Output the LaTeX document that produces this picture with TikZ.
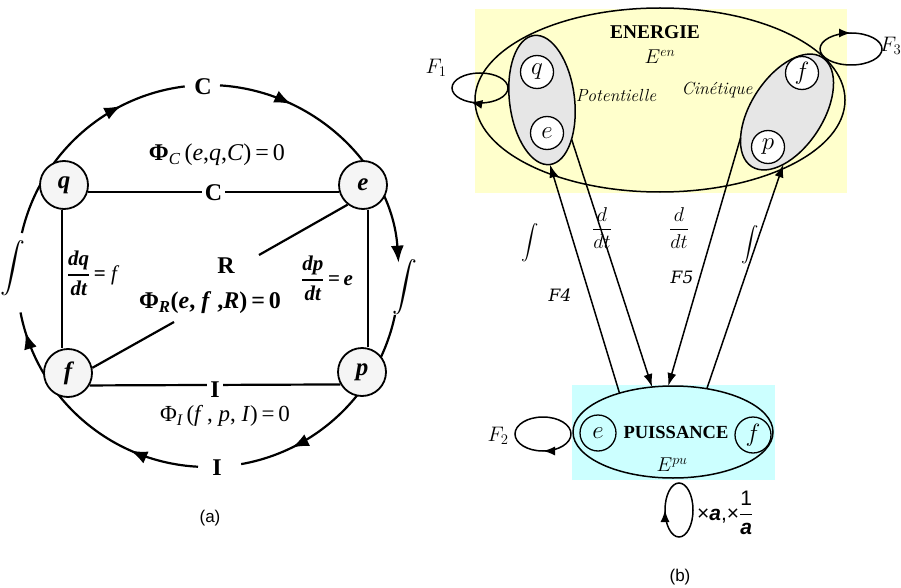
\RequirePackage{fix-cm}
\documentclass[tikz,border=0pt]{standalone}
\usepackage{amsmath}
\usepackage{fontspec}
\newfontfamily\tms{Liberation Serif}
\newfontfamily\sns{Liberation Sans}
\newfontfamily\dvs{DejaVu Serif}
\usetikzlibrary{shapes.geometric,arrows.meta,decorations.markings,calc}
\definecolor{enfill}{RGB}{255,255,204}
\definecolor{pufill}{RGB}{204,255,255}
\definecolor{nodefill}{RGB}{245,245,245}
\definecolor{blobfill}{RGB}{230,230,230}
\tikzset{
  amark/.style={postaction={decorate,decoration={markings,mark=at position #1 with {\arrow{Latex[length=17pt,width=13pt]}}}}},
  rmark/.style={postaction={decorate,decoration={markings,mark=at position #1 with {\arrow{Latex[length=12pt,width=9pt]}}}}},
  lline/.style={line width=2.2pt},
  arcl/.style={line width=2.2pt},
  lnode/.style={circle,draw,line width=1.8pt,fill=nodefill,minimum size=48pt,inner sep=0pt,
    font=\tms\bfseries\itshape\fontsize{25}{28}\selectfont},
  lab/.style={font=\tms\bfseries\fontsize{24}{28}\selectfont,inner sep=3pt},
  rline/.style={line width=1.5pt},
  blob/.style={ellipse,draw,line width=1.5pt,fill=blobfill,inner sep=0pt,outer sep=0pt},
  rcirc/.style={circle,draw,line width=1.3pt,fill=white,minimum size=33pt,inner sep=0pt,
    font=\fontsize{25}{28}\selectfont},
  pcirc/.style={circle,draw,line width=1.3pt,minimum size=36pt,inner sep=0pt,
    font=\fontsize{25}{28}\selectfont},
  rarrow/.style={line width=1.5pt,-{Latex[length=13pt,width=9pt]}},
  mathlab/.style={font=\fontsize{21}{24}\selectfont,inner sep=1pt},
}
\begin{document}
\begin{tikzpicture}[x=1pt,y=-1pt]
\useasboundingbox (0,0) rectangle (901,588);
% ================= (a) =================
\coordinate (c) at (208,276);
\draw[arcl,amark=0.714] ($(c)+(193:191)$) arc[start angle=193,end angle=263,radius=191];
\draw[arcl,amark=0.27,-{Latex[length=17pt,width=13pt]}] ($(c)+(273.6:191)$) arc[start angle=273.6,end angle=356,radius=191];
\draw[arcl,amark=0.765] ($(c)+(11.8:191)$) arc[start angle=11.8,end angle=80,radius=191];
\draw[arcl,amark=0.276,amark=0.92] ($(c)+(93:191)$) arc[start angle=93,end angle=169,radius=191];

\node[lnode] (q) at (64,185) {q};
\node[lnode] (e) at (363,185) {e};
\node[lnode] (f) at (68,373) {f};
\node[lnode] (p) at (362,372) {p};

\coordinate (r1) at (259,255);
\coordinate (r2) at (174,322);
\draw[lline] (q.-17) -- node[lab,fill=white] {C} (e.197);
\draw[lline] ([xshift=-2pt]q.south) -- ([xshift=-2pt]q.south |- f.north);
\draw[lline] ([xshift=5pt]e.south) -- ([xshift=5pt]e.south |- p.north);
\draw[lline] (f.-30) -- node[lab,fill=white,inner ysep=1pt,yshift=-5pt] {I} (p.210);
\draw[lline] (e.232) -- (r1);
\draw[lline] (f.12) -- (r2);

\node[lab] (ctop) at (203,87) {C};
\node[lab] (ibot) at (217,468) {I};
\node[lab] (rlab) at (226,266) {R};
\node[font=\tms\fontsize{24}{28}\selectfont] (phic) at (217,155)
  {{\bfseries Φ}\textsubscript{\itshape C}\,(\textit{e},\textit{q},\textit{C})\,=\,0};
\node[font=\tms\bfseries\fontsize{24}{28}\selectfont] (phir) at (210,303)
  {Φ\textsubscript{\itshape R}(\textit{e}, \textit{f} ,\textit{R})\,=\,0};
\node[font=\tms\fontsize{23}{26}\selectfont,inner sep=1pt] (phii) at (225,416)
  {Φ\textsubscript{\itshape I}\,(\textit{f}\,, \textit{p}, \textit{I})\,=\,0};
\node[font=\fontsize{21}{24}\selectfont] (dqdt) at (92,273)
  {$\genfrac{}{}{1.6pt}{0}{\hbox{\tms\bfseries\itshape dq}}{\hbox{\tms\bfseries\itshape dt}}\hbox{\tms\bfseries\,= }\hbox{\tms\itshape f}$};
\node[font=\fontsize{21}{24}\selectfont] (dpdt) at (327,278)
  {$\genfrac{}{}{1.6pt}{0}{\hbox{\tms\bfseries\itshape dp}}{\hbox{\tms\bfseries\itshape dt}}\hbox{\tms\bfseries\,=\,}\hbox{\tms\bfseries\itshape e}$};
\node[font=\fontsize{27}{30}\selectfont] (intl) at (13,268) {$\displaystyle\int$};
\node[font=\fontsize{27}{30}\selectfont] (intr) at (405,287) {$\displaystyle\int$};
\node[font=\sns\fontsize{17}{20}\selectfont] (capa) at (210,518) {(a)};

% ================= (b) =================
\fill[enfill] (475,9) rectangle (847,193);
\node[ellipse,draw,rline,minimum width=370pt,minimum height=184pt,inner sep=0pt,outer sep=0pt] (en) at (660,100) {};
\node[blob,minimum width=65pt,minimum height=130pt,rotate=7] (pot) at (542,100) {};
\node[blob,minimum width=130pt,minimum height=72pt,rotate=57] (cin) at (787,112) {};
\node[rcirc] (q2) at (537,72) {$q$};
\node[rcirc] (e1) at (547,133) {$e$};
\node[rcirc] (f1) at (802,73) {$f$};
\node[rcirc] (p1) at (768,147) {$p$};
\node[font=\tms\bfseries\fontsize{19.5}{22}\selectfont] (entitle) at (655,32) {ENERGIE};
\node[font=\fontsize{20}{22}\selectfont] (een) at (660,57) {$E^{en}$};
\node[font=\itshape\fontsize{17.5}{20}\selectfont] (potl) at (616,96) {Potentielle};
\node[font=\itshape\fontsize{17.5}{20}\selectfont] (cinl) at (717,90) {Cinétique};

\coordinate (l1) at (480,88);
\coordinate (l3) at (851,49);
\coordinate (l2) at (543,434);
\coordinate (l4) at (679,510);
\draw[rline,rmark=0.32] ($(l1)+(28,0)$) arc[start angle=0,end angle=360,x radius=28,y radius=15];
\draw[rline,rmark=0.75] ($(l3)+(31,0)$) arc[start angle=0,end angle=360,x radius=31,y radius=16];
\draw[rline,rmark=0.25] ($(l2)+(28,0)$) arc[start angle=0,end angle=360,x radius=28,y radius=17];
\draw[rline,rmark=0.5] ($(l4)+(14,0)$) arc[start angle=0,end angle=360,x radius=14,y radius=27];
\node[mathlab] (F1) at (436,68) {$F_1$};
\node[mathlab,anchor=west,inner sep=0pt] (F3) at (880,46) {$F_3$};
\node[mathlab] (F2) at (498,436) {$F_2$};

\fill[pufill] (572,385) rectangle (775,480);
\node[ellipse,draw,rline,minimum width=200pt,minimum height=92pt,inner sep=0pt,outer sep=0pt] (pu) at (673,432) {};
\node[pcirc] (e2) at (598,433) {$e$};
\node[pcirc] (f2) at (753,435) {$f$};
\node[font=\tms\bfseries\fontsize{18.5}{20}\selectfont] (putitle) at (676,432) {PUISSANCE};
\node[font=\fontsize{20}{22}\selectfont] (epu) at (672,465) {$E^{pu}$};

\draw[rarrow] (pu.144) -- (pot.south);
\draw[rarrow] (pot.-60) -- (pu.115);
\draw[rarrow] (cin.152) -- (pu.96);
\draw[rarrow] (pu.52) -- (cin.209);

\node[font=\fontsize{17}{20}\selectfont] (int1) at (530,243) {$\displaystyle\int$};
\node[font=\fontsize{17}{20}\selectfont] (int2) at (750,245) {$\displaystyle\int$};
\node[font=\fontsize{20}{22}\selectfont] (dd1) at (602,228) {$\dfrac{d}{dt}$};
\node[font=\fontsize{20}{22}\selectfont] (dd2) at (679,228) {$\dfrac{d}{dt}$};
\node[font=\dvs\itshape\fontsize{17}{20}\selectfont] (F4) at (560,295) {F4};
\node[font=\dvs\itshape\fontsize{17}{20}\selectfont] (F5) at (682,277) {F5};
\node[anchor=west,inner sep=0pt,font=\sns\fontsize{21}{24}\selectfont] (scal) at (697,513)
  {×\textbf{\textit{a}},×$\genfrac{}{}{1pt}{0}{\hbox{\sns 1}}{\hbox{\sns\bfseries\itshape a}}$};
\node[font=\sns\fontsize{17}{20}\selectfont] (capb) at (680,577) {(b)};
\end{tikzpicture}
\end{document}
